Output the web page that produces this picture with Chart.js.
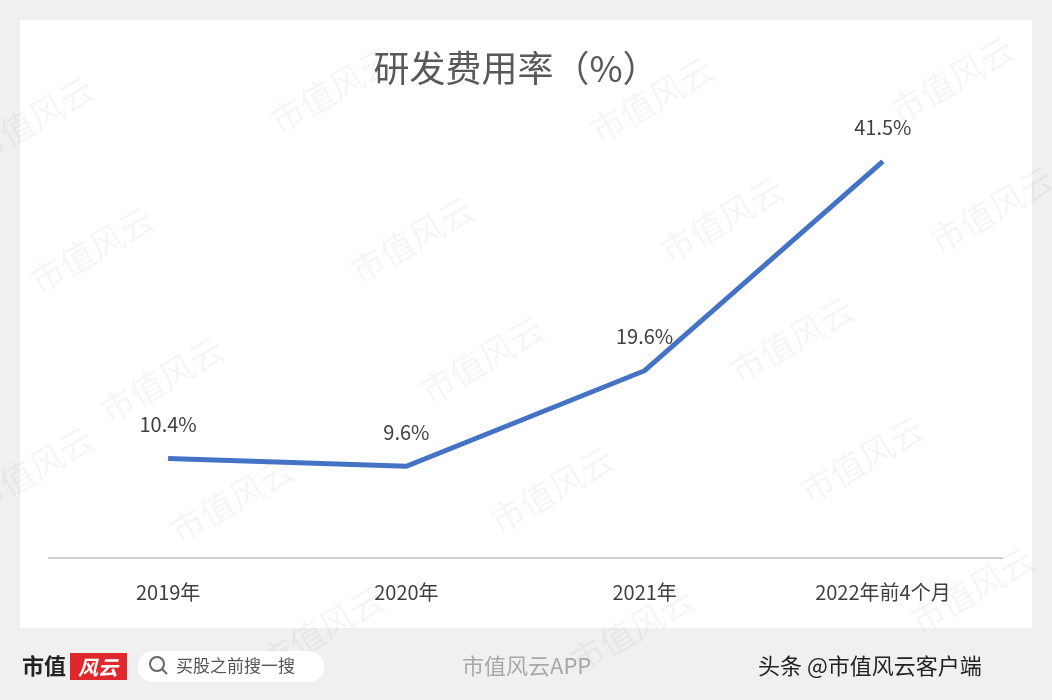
<!DOCTYPE html>
<html><head><meta charset="utf-8">
<script src="https://cdn.jsdelivr.net/npm/chart.js@4"></script>
<style>html,body{margin:0;padding:0;background:#f0f0f0}#w{width:1052px;height:700px}</style>
</head><body><div id="w"><canvas id="c"></canvas></div>
<script>
const categories = ['2019年', '2020年', '2021年', '2022年前4个月'];
const rdRatio = [10.4, 9.6, 19.6, 41.5];
const valueLabels = ['10.4%', '9.6%', '19.6%', '41.5%'];
const titleText = '研发费用率（%）';
const FONT = '"Noto Sans CJK SC","Noto Sans",sans-serif';

const deco = {
  id: 'deco',
  beforeDraw(chart) {
    const ctx = chart.ctx;
    ctx.save();
    ctx.fillStyle = '#f0f0f0'; ctx.fillRect(0, 0, 1052, 700);
    ctx.fillStyle = '#ffffff'; ctx.fillRect(20, 20, 1012, 608);
    ctx.fillStyle = 'rgba(0,0,0,0.04)';
    ctx.font = '34px ' + FONT;
    const pts = [[40,130],[340,100],[660,110],[960,90],[100,260],[420,250],[730,230],[1000,220],[170,390],[490,370],[800,350],[40,480],[560,500],[870,470],[240,510],[330,640],[640,640],[980,600]];
    for (const [x, y] of pts) { ctx.save(); ctx.translate(x, y); ctx.rotate(-Math.PI/6); ctx.fillText('市值风云', -70, 0); ctx.restore(); }
    ctx.fillStyle = '#595959'; ctx.font = '36px ' + FONT; ctx.textAlign = 'center'; ctx.textBaseline = 'middle';
    ctx.fillText(titleText, 516, 68);
    ctx.textAlign = 'left';
    ctx.fillStyle = '#222'; ctx.font = 'bold 22px ' + FONT; ctx.fillText('市值', 22, 666);
    ctx.fillStyle = '#e0272b'; ctx.fillRect(70, 653, 57, 27);
    ctx.fillStyle = '#fff'; ctx.font = 'italic bold 20px ' + FONT; ctx.fillText('风云', 78, 667);
    ctx.fillStyle = '#fff'; ctx.beginPath(); ctx.roundRect(138, 651, 186, 31, 15); ctx.fill();
    ctx.strokeStyle = '#666'; ctx.lineWidth = 2; ctx.beginPath(); ctx.arc(157, 664, 7, 0, Math.PI*2); ctx.stroke();
    ctx.beginPath(); ctx.moveTo(162, 669); ctx.lineTo(167, 674); ctx.stroke();
    ctx.fillStyle = '#555'; ctx.font = '17px ' + FONT; ctx.fillText('买股之前搜一搜', 176, 666);
    ctx.fillStyle = 'rgba(120,120,120,0.6)'; ctx.font = '22px ' + FONT; ctx.fillText('市值风云APP', 462, 666);
    ctx.fillStyle = '#222'; ctx.font = '22px ' + FONT; ctx.fillText('头条 @市值风云客户端', 758, 666);
    ctx.restore();
  },
  afterDatasetsDraw(chart) {
    const ctx = chart.ctx, meta = chart.getDatasetMeta(0);
    ctx.save();
    ctx.fillStyle = '#404040'; ctx.font = '20px ' + FONT; ctx.textAlign = 'center'; ctx.textBaseline = 'middle';
    meta.data.forEach((p, i) => ctx.fillText(valueLabels[i], p.x, p.y - 34));
    ctx.restore();
  }
};

new Chart(document.getElementById('c'), {
  type: 'line',
  data: { labels: categories, datasets: [{ data: rdRatio, borderColor: '#4472C4', borderWidth: 5, pointRadius: 0, tension: 0, fill: false }] },
  options: {
    responsive: true, maintainAspectRatio: false, animation: false,
    layout: { padding: { left: 49, right: 50, top: 128, bottom: 0 } },
    plugins: { legend: { display: false }, tooltip: { enabled: false } },
    scales: {
      y: { display: false, min: 0, max: 45 },
      x: {
        offset: true,
        grid: { display: false, drawTicks: false, offset: true },
        border: { display: true, color: '#d0d0d0', width: 2 },
        ticks: { color: '#404040', font: { size: 20, family: FONT }, padding: 22, maxRotation: 0 },
        afterFit(s) { s.height = 142; }
      }
    }
  },
  plugins: [deco]
});
</script></body></html>
